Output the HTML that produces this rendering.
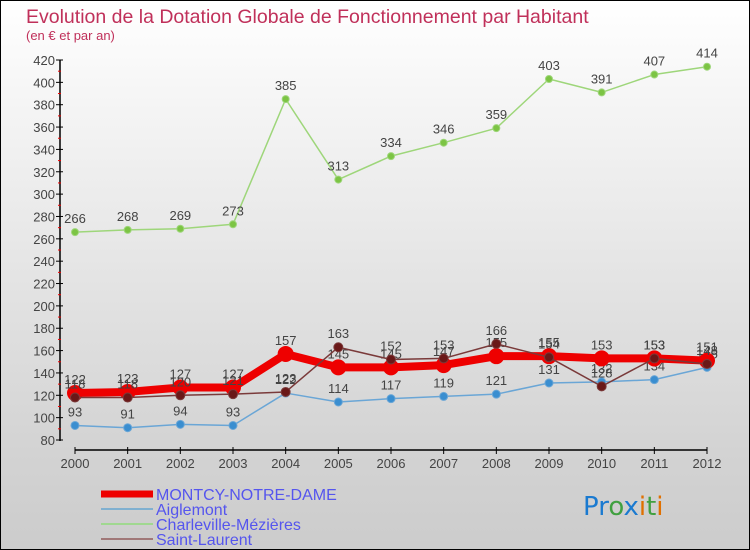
<!DOCTYPE html>
<html><head><meta charset="utf-8"><style>
body{margin:0;}
#wrap{position:relative;width:748px;height:548px;border:1px solid #000;background:linear-gradient(#ffffff,#d4d4d4 80%,#cccccc);font-family:"Liberation Sans",sans-serif;overflow:hidden}
</style></head><body>
<div id="wrap">
<svg id="chart" width="748" height="548" style="position:absolute;left:0;top:0"></svg>
</div>
<script>
const years=[2000,2001,2002,2003,2004,2005,2006,2007,2008,2009,2010,2011,2012];
const montcy=[122,123,127,127,157,145,145,147,155,155,153,153,151];
const aiglemont=[93,91,94,93,122,114,117,119,121,131,132,134,145];
const charleville=[266,268,269,273,385,313,334,346,359,403,391,407,414];
const saintLaurent=[118,118,120,121,123,163,152,153,166,154,128,153,148];
const yTicks=[80,100,120,140,160,180,200,220,240,260,280,300,320,340,360,380,400,420];
const svg=document.getElementById('chart');
const NS='http://www.w3.org/2000/svg';
function X(i){return 74+i*(632/12);}
function Y(v){return 439-(v-80)*(380/340);}
function mk(t,a,p){const e=document.createElementNS(NS,t);for(const k in a)e.setAttribute(k,a[k]);(p||svg).appendChild(e);return e;}
function txt(x,y,s,o,p){const e=mk('text',Object.assign({x:x,y:y,'font-size':13,fill:'#444'},o||{}),p);e.textContent=s;return e;}
let t=txt(25,22,'Evolution de la Dotation Globale de Fonctionnement par Habitant',{'font-size':19.5,fill:'#c0305a'});

t=txt(25,39,'(en € et par an)',{'font-size':13,fill:'#c0305a'});

let ax=mk('line',{x1:59,y1:Y(420),x2:59,y2:Y(80)+1,stroke:'#000','stroke-width':1.5});

ax=mk('line',{x1:X(0),y1:449,x2:X(12),y2:449,stroke:'#000','stroke-width':1.5});

yTicks.forEach((v,i)=>{
  mk('line',{x1:55,y1:Y(v),x2:62,y2:Y(v),stroke:'#000'});
  if(i<yTicks.length-1) mk('line',{x1:57,y1:Y(v+10),x2:60,y2:Y(v+10),stroke:'#e00'});
  const l=txt(54,Y(v)+5,String(v),{'text-anchor':'end'});
  
});
years.forEach((yr,i)=>{
  mk('line',{x1:X(i),y1:446,x2:X(i),y2:453,stroke:'#000'});
  const l=txt(X(i),467,String(yr),{'text-anchor':'middle'});
  
});
function series(vals,color,w,r,dot,name){
  const g=mk('g',{});
  
  mk('polyline',{points:vals.map((v,i)=>X(i)+','+Y(v)).join(' '),fill:'none',stroke:color,'stroke-width':w,'stroke-linejoin':'round'},g);
  vals.forEach((v,i)=>{
    const c=mk('circle',{cx:X(i),cy:Y(v),r:r,fill:dot,stroke:color,'stroke-width':1},g);
    
    const l=txt(X(i),Y(v)-9,String(v),{'text-anchor':'middle'},g);
    
  });
}
series(charleville,'#9ed67a',1.5,3.5,'#7cc444','charleville');
series(aiglemont,'#6aa6d6',1.5,4,'#3a8ed0','aiglemont');
series(montcy,'#ee0000',8,7.5,'#ee0000','montcy');
series(saintLaurent,'#7a3a3a',1.5,4.5,'#6a1818','saint-laurent');
const leg=[['MONTCY-NOTRE-DAME','#ee0000',7],['Aiglemont','#80b0d0',2],['Charleville-Mézières','#a0d890',2],['Saint-Laurent','#a07878',2]];
leg.forEach((d,i)=>{
  const y=493+i*15;
  const g=mk('g',{});
  
  mk('line',{x1:100,y1:y,x2:152,y2:y,stroke:d[1],'stroke-width':d[2]},g);
  txt(155,y+6,d[0],{'font-size':16,fill:'#5555ee'},g);
});
const lg=mk('text',{x:582,y:514,'font-size':26,'font-family':'"DejaVu Sans",sans-serif'});

[['Pr','#1a7ad0'],['o','#40a040'],['x','#1a7ad0'],['i','#e07000'],['t','#40a040'],['i','#e07000']].forEach(p=>{const s=mk('tspan',{fill:p[1]},lg);s.textContent=p[0];});
</script>
</body></html>
